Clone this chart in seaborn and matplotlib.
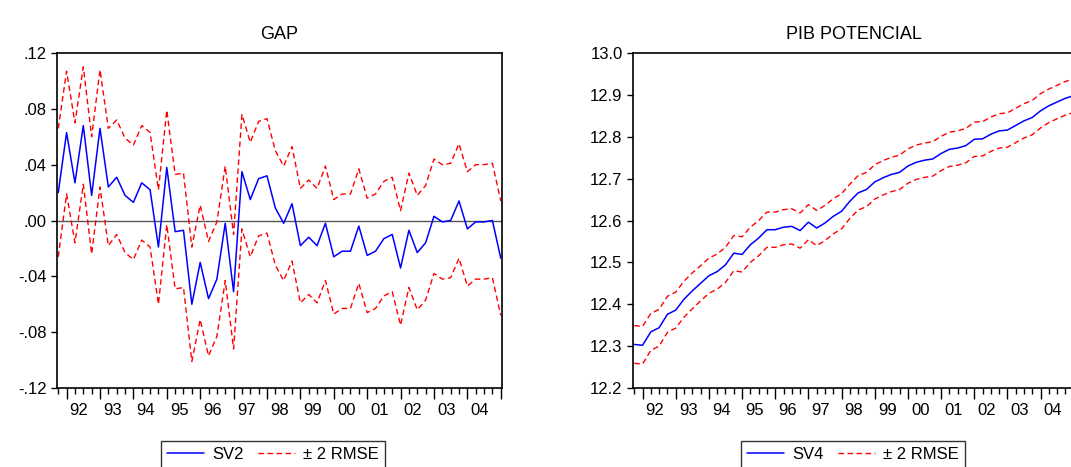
import matplotlib
matplotlib.use("Agg")
import matplotlib.pyplot as plt
import seaborn as sns
import pandas as pd
import numpy as np

# quarterly sample 1991Q4 .. 2005Q1 (54 obs)
quarters = pd.period_range("1991Q4", "2005Q1", freq="Q")
year_labels = ["92", "93", "94", "95", "96", "97", "98", "99", "00", "01", "02", "03", "04"]

gap = [0.020, 0.063, 0.027, 0.068, 0.018, 0.066, 0.024, 0.031, 0.018, 0.013,
       0.027, 0.022, -0.019, 0.038, -0.008, -0.007, -0.060, -0.030, -0.056, -0.042,
       -0.002, -0.051, 0.035, 0.015, 0.030, 0.032, 0.009, -0.002, 0.012, -0.018,
       -0.012, -0.018, -0.002, -0.026, -0.022, -0.022, -0.004, -0.025, -0.022, -0.013,
       -0.010, -0.034, -0.007, -0.023, -0.016, 0.003, -0.001, 0.000, 0.014, -0.006,
       -0.001, -0.001, 0.000, -0.027]
gap_band = [0.046, 0.044, 0.043, 0.042, 0.042, 0.042, 0.042, 0.041, 0.041, 0.041,
            0.041, 0.041, 0.041, 0.041, 0.041, 0.041, 0.041, 0.041, 0.041, 0.041,
            0.041, 0.041, 0.041, 0.041, 0.041, 0.041, 0.041, 0.041, 0.041, 0.041,
            0.041, 0.041, 0.041, 0.041, 0.041, 0.041, 0.041, 0.041, 0.041, 0.041,
            0.041, 0.041, 0.041, 0.041, 0.041, 0.041, 0.041, 0.041, 0.041, 0.041,
            0.041, 0.041, 0.041, 0.041]

pib = [12.304, 12.302, 12.334, 12.344, 12.376, 12.386, 12.412, 12.432, 12.450, 12.468,
       12.478, 12.494, 12.522, 12.519, 12.542, 12.558, 12.578, 12.578, 12.584, 12.586,
       12.576, 12.596, 12.582, 12.594, 12.610, 12.622, 12.646, 12.666, 12.674, 12.692,
       12.702, 12.710, 12.715, 12.730, 12.739, 12.744, 12.747, 12.760, 12.770, 12.773,
       12.779, 12.794, 12.795, 12.806, 12.814, 12.816, 12.827, 12.838, 12.846, 12.862,
       12.874, 12.883, 12.892, 12.898]
pib_band = [0.045, 0.045, 0.044, 0.044, 0.043, 0.043, 0.043, 0.043, 0.042, 0.042,
            0.042, 0.042, 0.042, 0.042, 0.042, 0.042, 0.042, 0.042, 0.042, 0.042,
            0.042, 0.042, 0.042, 0.042, 0.042, 0.042, 0.041, 0.041, 0.041, 0.041,
            0.041, 0.041, 0.041, 0.041, 0.041, 0.041, 0.041, 0.041, 0.041, 0.041,
            0.041, 0.041, 0.041, 0.041, 0.041, 0.041, 0.041, 0.041, 0.041, 0.041,
            0.040, 0.040, 0.040, 0.040]

sns.set_style("ticks")
plt.rcParams["font.family"] = ["Liberation Sans", "DejaVu Sans"]
plt.rcParams["text.color"] = "black"
plt.rcParams["xtick.color"] = "black"
plt.rcParams["ytick.color"] = "black"
plt.rcParams["axes.edgecolor"] = "black"

W, H = 1071, 467
fig = plt.figure(figsize=(W / 100, H / 100), dpi=100)
ax1 = fig.add_axes([57 / W, 1 - 388 / H, (502 - 57) / W, (388 - 53) / H])
ax2 = fig.add_axes([633 / W, 1 - 388 / H, (1075 - 633) / W, (388 - 53) / H])


def draw(ax, centre, band, name, title, ylim, yticks, ylabels):
    df = pd.DataFrame({"t": np.arange(len(quarters)), "c": centre, "b": band})
    df["up"] = df["c"] + df["b"]
    df["lo"] = df["c"] - df["b"]
    sns.lineplot(data=df, x="t", y="c", ax=ax, color="blue", lw=1.1, label=name)
    sns.lineplot(data=df, x="t", y="up", ax=ax, color="red", lw=1.0, ls=(0, (4, 2.5)), label="± 2 RMSE")
    sns.lineplot(data=df, x="t", y="lo", ax=ax, color="red", lw=1.0, ls=(0, (4, 2.5)))
    ax.set_xlim(-0.15, len(quarters) - 1 + 0.15)
    ax.set_ylim(*ylim)
    ax.set_yticks(yticks)
    ax.set_yticklabels(ylabels, fontsize=12, color="black")
    ax.set_xlabel("")
    ax.set_ylabel("")
    ax.set_title(title, fontsize=13, pad=10, color="black")
    ax.set_xticks(np.arange(1, len(quarters), 4))
    ax.set_xticklabels([])
    ax.set_xticks(np.arange(len(quarters)), minor=True)
    ax.tick_params(axis="x", which="major", length=8, width=1, direction="out")
    ax.tick_params(axis="x", which="minor", length=4, width=1, direction="out")
    ax.tick_params(axis="y", length=4, width=1, direction="out")
    for i, lab in enumerate(year_labels):
        ax.text(2.5 + 4 * i, -0.045, lab, transform=ax.get_xaxis_transform(),
                ha="center", va="top", fontsize=12, color="black")
    for s in ax.spines.values():
        s.set_linewidth(1.2)
        s.set_visible(True)
        s.set_color("black")
    h, l = ax.get_legend_handles_labels()
    ax.get_legend().remove()
    return h, l


h1, l1 = draw(ax1, gap, gap_band, "SV2", "GAP", (-0.12, 0.12),
              [-0.12, -0.08, -0.04, 0.0, 0.04, 0.08, 0.12],
              ["-.12", "-.08", "-.04", ".00", ".04", ".08", ".12"])
ax1.axhline(0, color="#555555", lw=1.0, zorder=0)
h2, l2 = draw(ax2, pib, pib_band, "SV4", "PIB POTENCIAL", (12.2, 13.0),
              np.round(np.arange(12.2, 13.01, 0.1), 1),
              [f"{v:.1f}" for v in np.arange(12.2, 13.01, 0.1)])

for h, l, cx in [(h1, l1, 273 / W), (h2, l2, 853 / W)]:
    leg = fig.legend(h, l, loc="upper center", bbox_to_anchor=(cx, 1 - 433 / H), ncol=2,
                     fontsize=12, frameon=True, fancybox=False, handlelength=2.2,
                     handletextpad=0.5, columnspacing=0.9, borderpad=0.35)
    leg.get_frame().set_edgecolor("black")
    leg.get_frame().set_linewidth(1.0)

fig.savefig("out.png", dpi=100)
